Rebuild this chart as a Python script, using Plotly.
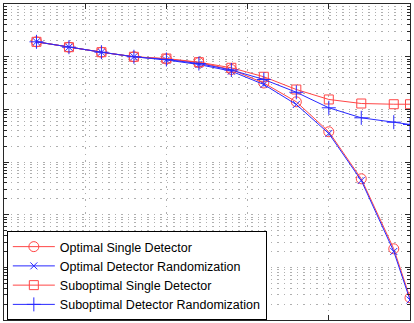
import plotly.graph_objects as go

x_vals = [2, 4, 6, 8, 10, 12, 14, 16, 18, 20, 22, 24, 25]

opt_single = [0.1914, 0.1514, 0.1216, 0.0995, 0.0904, 0.0774, 0.0570, 0.0316,
              0.0139, 0.00375, 4.80e-4, 2.25e-5, 2.64e-6]
opt_rand = [0.1914, 0.1514, 0.1216, 0.0995, 0.0865, 0.0710, 0.0530, 0.0296,
            0.01236, 0.00348, 4.46e-4, 2.0e-5, 2.40e-6]
sub_single = [0.1914, 0.1514, 0.1216, 0.0995, 0.0923, 0.0785, 0.0615, 0.0415,
              0.0238, 0.0154, 0.0129, 0.0125, 0.0125]
sub_rand = [0.1914, 0.1514, 0.1216, 0.0995, 0.0883, 0.0741, 0.0558, 0.0369,
            0.0211, 0.0107, 0.0069, 0.0057, 0.00515]

names = ["Optimal Single Detector", "Optimal Detector Randomization",
         "Suboptimal Single Detector", "Suboptimal Detector Randomization"]

RED = "rgb(255,70,70)"
BLUE = "rgb(40,40,255)"

fig = go.Figure()
specs = [
    (opt_single, RED, "circle-open", 10),
    (opt_rand, BLUE, "x-thin-open", 7),
    (sub_single, RED, "square-open", 9),
    (sub_rand, BLUE, "cross-thin-open", 10),
]
for (ys, col, sym, sz), nm in zip(specs, names):
    fig.add_trace(go.Scatter(
        x=x_vals, y=ys, name=nm, mode="lines+markers",
        line=dict(color=col, width=1),
        marker=dict(symbol=sym, size=sz, color=col, line=dict(color=col, width=1)),
    ))

grid_col = "rgb(175,175,175)"
grid_dash = "1.5px,5px"
axis_col = "rgb(40,40,40)"
fig.update_layout(
    width=414, height=323,
    margin=dict(l=4, r=4, t=4, b=3),
    paper_bgcolor="white", plot_bgcolor="white",
    font=dict(family="Liberation Sans, Arial, sans-serif", size=12, color="black"),
    showlegend=True,
    legend=dict(
        x=0.007, y=0.0, xanchor="left", yanchor="bottom",
        bgcolor="white", bordercolor="black", borderwidth=1,
        font=dict(size=12.5), tracegroupgap=0, itemwidth=42,
    ),
    xaxis=dict(
        range=[0, 25], dtick=5, tick0=0,
        showline=True, linecolor=axis_col, linewidth=1, mirror="ticks",
        ticks="inside", ticklen=5, tickcolor=axis_col,
        showticklabels=False,
        showgrid=True, gridcolor=grid_col, griddash=grid_dash, gridwidth=1,
        zeroline=False,
    ),
    yaxis=dict(
        type="log", range=[-6, 0], dtick=1,
        showline=True, linecolor=axis_col, linewidth=1, mirror="ticks",
        ticks="inside", ticklen=5, tickcolor=axis_col,
        showticklabels=False,
        showgrid=True, gridcolor=grid_col, griddash=grid_dash, gridwidth=1,
        minor=dict(dtick="D1", ticks="inside", ticklen=3, tickcolor=axis_col,
                   showgrid=True, gridcolor=grid_col, griddash=grid_dash, gridwidth=1),
        zeroline=False,
    ),
)

fig.write_html("out.html")
